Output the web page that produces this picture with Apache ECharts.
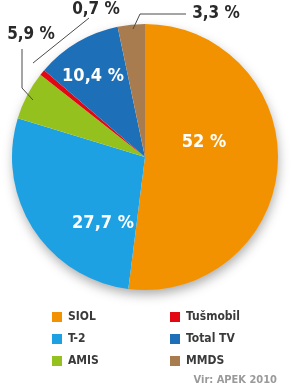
<!DOCTYPE html>
<html><head><meta charset="utf-8">
<script src="https://cdn.jsdelivr.net/npm/echarts@6/dist/echarts.min.js"></script>
<style>html,body{margin:0;padding:0;background:#fff}#c{width:300px;height:387px}</style>
</head><body><div id="c"></div>
<script>
var categories = ['SIOL', 'T-2', 'AMIS', 'Tušmobil', 'Total TV', 'MMDS'];
var values = [52, 27.7, 5.9, 0.7, 10.4, 3.3];
var valueLabels = ['52 %', '27,7 %', '5,9 %', '0,7 %', '10,4 %', '3,3 %'];
var colors = ['#F39200', '#1DA1E2', '#95C11F', '#E30613', '#1D70B7', '#A97C50'];
var sourceText = 'Vir: APEK 2010';

// pick an installed condensed font if any
function hasFont(name) {
  var cv = document.createElement('canvas').getContext('2d');
  var s = 'Tušmobil AMIS 0,7 %';
  cv.font = 'bold 40px monospace'; var a = cv.measureText(s).width;
  cv.font = 'bold 40px "' + name + '", monospace'; var b = cv.measureText(s).width;
  cv.font = 'bold 40px serif'; var c = cv.measureText(s).width;
  cv.font = 'bold 40px "' + name + '", serif'; var d = cv.measureText(s).width;
  return a !== b || c !== d;
}
var candidates = ['Liberation Sans Narrow', 'DejaVu Sans Condensed', 'Roboto Condensed', 'Open Sans Condensed', 'Noto Sans'];
var narrow = null;
for (var k = 0; k < candidates.length; k++) { if (hasFont(candidates[k])) { narrow = candidates[k]; break; } }
var FONT = '"' + (narrow || 'Roboto') + '", sans-serif';

var labelPos = [
  {x: 204, y: 142, inside: true},
  {x: 103, y: 223, inside: true},
  {x: 31, y: 35},
  {x: 96, y: 10},
  {x: 93, y: 76, inside: true},
  {x: 216, y: 14}
];
var leaderLines = [
  [[33, 100], [22, 88], [22, 49]],
  [[33, 63], [89, 18]],
  [[133, 29], [140, 14], [186, 14]]
];

var data = categories.map(function (c, i) {
  var inside = !!labelPos[i].inside;
  return {
    name: c, value: values[i],
    itemStyle: {color: colors[i]},
    label: {
      formatter: valueLabels[i],
      color: inside ? '#fff' : '#2a2a2a',
      fontSize: inside ? 18 : 17
    }
  };
});

var chart = echarts.init(document.getElementById('c'), null, {renderer: 'canvas'});
chart.setOption({
  animation: false,
  title: {
    text: sourceText, right: 18, top: 370,
    textStyle: {color: '#9a9a9a', fontSize: 11, fontWeight: 'bold', fontFamily: FONT}
  },
  legend: [
    {
      data: categories.slice(0, 3), orient: 'vertical', left: 47, top: 306,
      icon: 'rect', itemWidth: 10, itemHeight: 10, itemGap: 10, selectedMode: false,
      textStyle: {color: '#3a3a3a', fontSize: 12, fontWeight: 'bold', fontFamily: FONT, padding: [0, 0, 0, 1]}
    },
    {
      data: categories.slice(3), orient: 'vertical', left: 165, top: 306,
      icon: 'rect', itemWidth: 10, itemHeight: 10, itemGap: 10, selectedMode: false,
      textStyle: {color: '#3a3a3a', fontSize: 12, fontWeight: 'bold', fontFamily: FONT, padding: [0, 0, 0, 1]}
    }
  ],
  graphic: leaderLines.map(function (pts) {
    return {type: 'polyline', z: 10, silent: true, shape: {points: pts},
      style: {stroke: '#4a4a4a', lineWidth: 1, fill: null}};
  }),
  series: [
    {
      type: 'pie', name: 'shadow', silent: true, z: 1,
      center: [145, 157], radius: 132,
      label: {show: false}, labelLine: {show: false},
      itemStyle: {color: '#fff', shadowBlur: 12, shadowColor: 'rgba(0,0,0,0.35)', shadowOffsetY: 5, shadowOffsetX: 1},
      data: [{name: '', value: 1}],
      tooltip: {show: false}, legendHoverLink: false
    },
    {
      type: 'pie', z: 2,
      center: [145, 157], radius: 133,
      startAngle: 90, clockwise: true,
      avoidLabelOverlap: false,
      label: {show: true, position: 'inside', fontWeight: 'bold', fontFamily: FONT},
      labelLine: {show: false},
      labelLayout: function (p) {
        var L = labelPos[p.dataIndex];
        return {x: L.x, y: L.y, align: 'center', verticalAlign: 'middle'};
      },
      data: data
    }
  ]
});
</script></body></html>
